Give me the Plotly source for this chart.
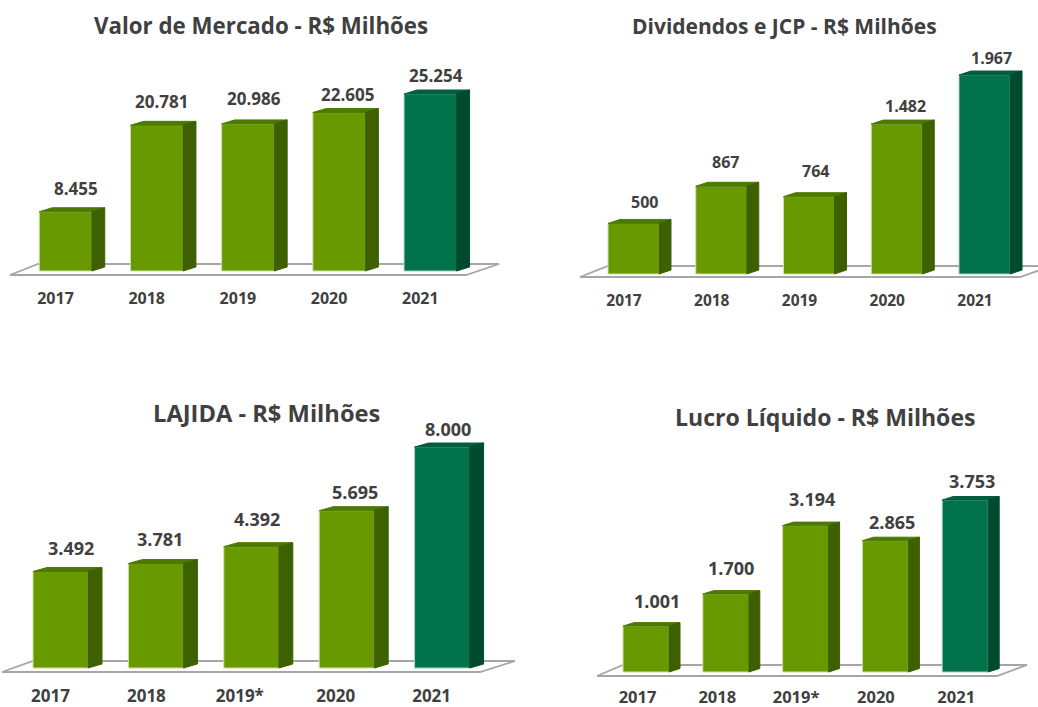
import plotly.graph_objects as go

# ---- data ----
years_a = ["2017", "2018", "2019", "2020", "2021"]
years_b = ["2017", "2018", "2019*", "2020", "2021"]

valor_mercado = [8455, 20781, 20986, 22605, 25254]
dividendos = [500, 867, 764, 1482, 1967]
lajida = [3492, 3781, 4392, 5695, 8000]
lucro = [1001, 1700, 3194, 2865, 3753]

labels_valor = ["8.455", "20.781", "20.986", "22.605", "25.254"]
labels_div = ["500", "867", "764", "1.482", "1.967"]
labels_lajida = ["3.492", "3.781", "4.392", "5.695", "8.000"]
labels_lucro = ["1.001", "1.700", "3.194", "2.865", "3.753"]

# ---- styles ----
GREEN, GREEN_SIDE, GREEN_TOP, GREEN_EDGE = "#689A00", "#3E6000", "#4C7A00", "#CFE0A8"
TEAL, TEAL_SIDE, TEAL_TOP, TEAL_EDGE = "#00734D", "#004A2E", "#005E3E", "#A8D0C0"
TXT = "#404040"
FONT = "Open Sans"
W, H = 1038, 707

# panel geometry, in screen pixels
panels = [
    dict(title="Valor de Mercado - R$ Milhões", tx=261, ty=25, tsize=22.3,
         vals=valor_mercado, labels=labels_valor, cats=years_a,
         box=(0, 520, 40, 287), c0=65.5, pitch=91.2, bw=52.5, base=271, vmaxpx=177, dx=13, dy=4,
         floor=(10, 466, 275, 38, 499, 264),
         lab_dx=[10, 5, 6, 8, 6], lab_dy=[23, 24, 25, 18, 18], tick_dx=[-10] * 5, lsize=17, tsz=16),
    dict(title="Dividendos e JCP - R$ Milhões", tx=784, ty=26, tsize=21,
         vals=dividendos, labels=labels_div, cats=years_a,
         box=(570, 1038, 40, 289), c0=633.5, pitch=87.75, bw=51, base=274, vmaxpx=199, dx=12, dy=4,
         floor=(580, 1020, 277, 608, 1052, 266),
         lab_dx=[11, 4, 6, 9, 6.5], lab_dy=[21, 24, 26, 18, 17], tick_dx=[-9.5] * 5, lsize=16, tsz=15.5),
    dict(title="LAJIDA - R$ Milhões", tx=266, ty=413, tsize=23.7,
         vals=lajida, labels=labels_lajida, cats=years_b,
         box=(0, 520, 425, 684), c0=60.5, pitch=95.4, bw=55, base=668, vmaxpx=221, dx=14, dy=4,
         floor=(2, 480, 672, 33, 515, 661),
         lab_dx=[10.5, 4, 5.5, 8.5, 5.5], lab_dy=[24, 25, 28, 19, 18],
         tick_dx=[-10, -9.5, -11.5, -11, -10.5], lsize=18, tsz=17),
    dict(title="Lucro Líquido - R$ Milhões", tx=825, ty=417, tsize=23.05,
         vals=lucro, labels=labels_lucro, cats=years_b,
         box=(570, 1038, 470, 685), c0=646, pitch=79.8, bw=46, base=672, vmaxpx=172, dx=11, dy=3.5,
         floor=(597, 997, 676, 623, 1027, 665),
         lab_dx=[11, 5, 6, 7, 7], lab_dy=[25, 26, 27, 19, 19],
         tick_dx=[-8.5, -8.5, -9.5, -9.5, -9], lsize=18, tsz=16.5),
]

fig = go.Figure()
shapes, annots = [], []
for k, p in enumerate(panels, start=1):
    xa, ya = f"xaxis{k}", f"yaxis{k}"
    xr, yr = f"x{k}", f"y{k}"
    L, R, T, B = p["box"]
    vals = p["vals"]
    px_per_val = p["vmaxpx"] / max(vals)
    px_x = lambda px: (px - p["c0"]) / p["pitch"]
    px_y = lambda py: (p["base"] - py) / px_per_val
    idx = list(range(len(vals)))
    last = len(vals) - 1
    colors = [TEAL if i == last else GREEN for i in idx]
    edges = [TEAL_EDGE if i == last else GREEN_EDGE for i in idx]

    fig.add_bar(x=idx, y=vals, width=p["bw"] / p["pitch"], marker=dict(color=colors, line=dict(width=1, color=edges)),
                xaxis=xr, yaxis=yr, showlegend=False, hoverinfo="skip")

    # side and top faces derived from each value
    half = p["bw"] / p["pitch"] / 2
    ddx, ddy = p["dx"] / p["pitch"], p["dy"] / px_per_val
    for i, v in zip(idx, vals):
        side_c = TEAL_SIDE if i == last else GREEN_SIDE
        top_c = TEAL_TOP if i == last else GREEN_TOP
        fig.add_scatter(x=[i - half, i - half + ddx, i + half + ddx, i + half, i - half],
                        y=[v, v + ddy, v + ddy, v, v], mode="lines", fill="toself", fillcolor=top_c,
                        line=dict(width=1, color=top_c), xaxis=xr, yaxis=yr, showlegend=False, hoverinfo="skip")
        fig.add_scatter(x=[i + half, i + half + ddx, i + half + ddx, i + half, i + half],
                        y=[0, ddy, v + ddy, v, 0], mode="lines", fill="toself", fillcolor=side_c,
                        line=dict(width=1, color=side_c), xaxis=xr, yaxis=yr, showlegend=False, hoverinfo="skip")
        annots.append(dict(x=i, y=v, xref=xr, yref=yr, text=p["labels"][i], showarrow=False,
                           xanchor="center", yanchor="middle",
                           xshift=p["lab_dx"][i], yshift=p["lab_dy"][i],
                           font=dict(family=FONT, size=p["lsize"], color=TXT, weight=700)))

    # floor parallelogram
    fl, fr, fy, bl, br, by = p["floor"]
    path = (f"M {px_x(fl)} {px_y(fy)} L {px_x(fr)} {px_y(fy)} L {px_x(br)} {px_y(by)} "
            f"L {px_x(bl)} {px_y(by)} Z")
    shapes.append(dict(type="path", path=path, xref=xr, yref=yr, layer="below",
                       line=dict(color="#A6A6A6", width=1.8), fillcolor="white"))

    fig.layout[xa] = dict(domain=[L / W, R / W], range=[px_x(L), px_x(R)], tickmode="array",
                          tickvals=[i + d / p["pitch"] for i, d in zip(idx, p["tick_dx"])],
                          ticktext=p["cats"], ticks="", showgrid=False, zeroline=False, showline=False,
                          automargin=False, anchor=yr,
                          tickfont=dict(family=FONT, size=p["tsz"], color=TXT, weight=700))
    fig.layout[ya] = dict(domain=[1 - B / H, 1 - T / H], range=[px_y(B), px_y(T)], visible=False,
                          automargin=False, anchor=xr, showgrid=False, zeroline=False)
    annots.append(dict(x=p["tx"] / W, y=1 - p["ty"] / H, xref="paper", yref="paper", text=p["title"],
                       xanchor="center", yanchor="middle", showarrow=False,
                       font=dict(family=FONT, size=p["tsize"], color=TXT, weight=700)))

fig.update_layout(width=W, height=H, margin=dict(l=0, r=0, t=0, b=0), paper_bgcolor="white",
                  plot_bgcolor="rgba(0,0,0,0)", shapes=shapes, annotations=annots, showlegend=False,
                  barmode="overlay")
fig.write_html("out.html", config=dict(displayModeBar=False), post_script="document.body.style.margin='0';")
